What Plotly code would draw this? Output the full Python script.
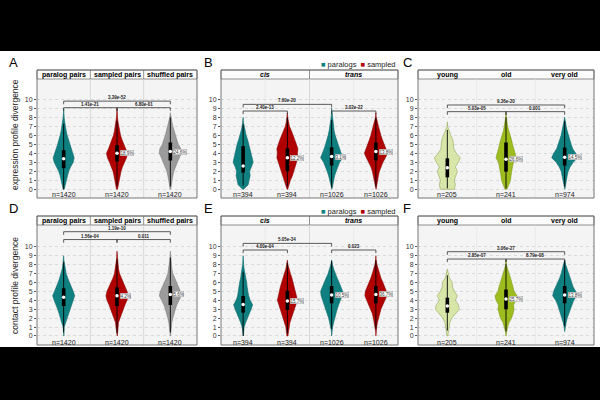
import plotly.graph_objects as go

# ---------------- data ----------------
levels = [0, 0.5, 1, 1.5, 2, 2.5, 3, 3.5, 4, 4.5, 5, 5.5, 6, 6.5, 7, 7.5, 8, 8.5, 9, 9.5]
y_ticks = [0, 1, 2, 3, 4, 5, 6, 7, 8, 9, 10]

# Panel A - expression, pairs
a_headers = ["paralog pairs", "sampled pairs", "shuffled pairs"]
a_n = ["n=1420", "n=1420", "n=1420"]
a_density = [
    [0.5, 1.5, 2.5, 3.5, 5, 7, 9.5, 10.5, 9, 7.5, 6, 4.5, 3.5, 2.5, 1.5, 1, 0.5, 0.2, 0, 0],
    [0.5, 1.2, 2, 3, 4, 5.5, 7.5, 9.5, 10.5, 8.5, 6.5, 5, 3.5, 2.5, 1.5, 1, 0.5, 0.2, 0, 0],
    [0.3, 0.8, 1.5, 2.5, 3.5, 5, 7, 9, 11, 10.5, 8, 6.5, 5, 3.5, 2.5, 1.5, 0.5, 0, 0, 0],
]
a_q1 = [2.35, 3.1, 3.2]
a_med = [3.4, 4.0, 4.2]
a_q3 = [4.35, 4.9, 5.2]
a_wlo = [0.0, 0.4, 0.3]
a_whi = [7.3, 7.6, 8.0]
a_pct = ["", "18.9%", "24.6%"]
a_pairs = [(0, 2), (0, 1), (1, 2)]
a_bracket_y = [9.8, 9.07, 9.07]
a_pvals = ["3.39e-52", "1.41e-21", "6.80e-01"]

# Panel B - expression, cis/trans
b_headers = ["cis", "trans"]
b_n = ["n=394", "n=394", "n=1026", "n=1026"]
b_density = [
    [0.5, 5, 6, 7, 6.5, 8, 10, 9, 8, 7, 6, 4.5, 3, 2, 1, 0.2, 0, 0, 0, 0],
    [0.3, 1.5, 3, 5, 6.5, 7.5, 9, 10.5, 10, 10.5, 9, 7.5, 6, 4, 2, 1, 0.3, 0, 0, 0],
    [0.3, 1, 2, 3, 4.5, 6, 8, 11, 9.5, 7.5, 6, 4.5, 3.5, 2.5, 2, 1, 0.5, 0.2, 0, 0],
    [0.2, 0.8, 1.5, 2.5, 3.5, 5, 7, 9.5, 11.5, 10, 8, 6.5, 5, 3.5, 2.5, 1.5, 0.3, 0, 0, 0],
]
b_q1 = [1.85, 2.0, 2.63, 3.2]
b_med = [2.6, 3.5, 3.63, 4.2]
b_q3 = [4.8, 4.55, 4.67, 5.2]
b_wlo = [0.4, 0.3, 0.2, 0.3]
b_whi = [7.2, 8.0, 7.7, 8.0]
b_pct = ["", "12.2%", "3.1%", "13.8%"]
b_pairs = [(0, 2), (0, 1), (2, 3)]
b_bracket_y = [9.44, 8.7, 8.7]
b_pvals = ["7.60e-20", "2.40e-13", "3.02e-22"]

# Panel C - expression, age
c_headers = ["young", "old", "very old"]
c_n = ["n=205", "n=241", "n=974"]
c_density = [
    [7, 8, 7, 8.5, 10, 8, 11, 13, 9, 6.5, 6, 5.5, 3.5, 2, 0.3, 0, 0, 0, 0, 0],
    [1, 3, 4.5, 5, 5.5, 6.5, 7.5, 10, 9, 7.5, 6.5, 5.5, 4, 2.5, 1.5, 1, 0.3, 0, 0, 0],
    [0.2, 0.8, 1.5, 2.5, 3.5, 5.5, 8.5, 13, 11, 8, 6.5, 5, 3.5, 2.5, 1.5, 0.8, 0, 0, 0, 0],
]
c_q1 = [1.33, 1.96, 2.63]
c_med = [2.4, 3.33, 3.55]
c_q3 = [3.44, 5.2, 4.63]
c_wlo = [0.1, 0.1, 0.3]
c_whi = [6.6, 8.0, 7.6]
c_pct = ["", "26.6%", "14.5%"]
c_pairs = [(0, 2), (0, 1), (1, 2)]
c_bracket_y = [9.37, 8.63, 8.63]
c_pvals = ["9.36e-20", "5.03e-05", "0.001"]

# Panel D - contact, pairs
d_headers = ["paralog pairs", "sampled pairs", "shuffled pairs"]
d_n = ["n=1420", "n=1420", "n=1420"]
d_density = [
    [0.2, 0.3, 0.5, 2, 3.5, 4.5, 6, 7.5, 9.5, 11, 9.5, 7.5, 5.5, 4, 2.5, 1.5, 0.8, 0.2, 0, 0],
    [0.3, 0.6, 1, 1.5, 3, 4.5, 6.5, 8, 10, 11, 10, 8, 6, 4, 2.5, 1.5, 1, 0.5, 0.2, 0],
    [0.2, 0.4, 0.8, 1.5, 2.5, 3.5, 5, 6.5, 8.5, 11, 10, 8, 6, 4, 2.5, 1.5, 1, 0.5, 0.2, 0],
]
d_q1 = [3.36, 3.36, 3.47]
d_med = [4.33, 4.5, 4.66]
d_q3 = [5.34, 5.45, 5.6]
d_wlo = [0.4, 0.3, 0.4]
d_whi = [8.3, 8.6, 8.8]
d_pct = ["", "4.2%", "5.6%"]
d_pairs = [(0, 2), (0, 1), (1, 2)]
d_bracket_y = [11.68, 10.8, 10.8]
d_pvals = ["1.19e-10", "1.56e-04", "0.011"]

# Panel E - contact, cis/trans
e_headers = ["cis", "trans"]
e_n = ["n=394", "n=394", "n=1026", "n=1026"]
e_density = [
    [0.3, 0.5, 1, 2.5, 4.5, 6, 8, 9.5, 7, 5.5, 4.5, 4, 3.5, 2.5, 1.5, 1, 0.5, 0.2, 0, 0],
    [0.5, 1, 1.5, 2.5, 4, 5.5, 7, 8.5, 10, 9, 8, 7, 5.5, 4.5, 3, 1.5, 0.5, 0, 0, 0],
    [0, 0.2, 1, 2, 3, 4, 5.5, 7, 9, 10.5, 11, 9.5, 7.5, 5.5, 3.5, 2, 0.8, 0, 0, 0],
    [0, 0.2, 0.8, 1.5, 2.5, 3.5, 5, 7, 9, 11, 10.5, 9, 7, 5, 3.5, 2, 1, 0.2, 0, 0],
]
e_q1 = [2.61, 2.91, 3.66, 3.66]
e_med = [3.54, 3.92, 4.6, 4.66]
e_q3 = [4.48, 5.07, 5.6, 5.6]
e_wlo = [0.0, 0.3, 0.8, 0.8]
e_whi = [7.2, 8.2, 8.4, 8.5]
e_pct = ["", "15.7%", "10.5%", "36.7%"]
e_pairs = [(0, 2), (0, 1), (2, 3)]
e_bracket_y = [10.37, 9.63, 9.63]
e_pvals = ["5.05e-34", "4.00e-04", "0.023"]

# Panel F - contact, age
f_headers = ["young", "old", "very old"]
f_n = ["n=205", "n=241", "n=974"]
f_density = [
    [0.5, 1, 1.5, 2.5, 4.5, 8, 12, 11, 8, 10, 7, 5, 5, 2, 1, 0, 0, 0, 0, 0],
    [0, 0.5, 1.5, 3, 5.5, 7, 8, 7.5, 10, 11, 8, 7, 6, 4.5, 3, 1.5, 0.3, 0, 0, 0],
    [0, 0, 0.5, 1.5, 2.5, 4, 5.5, 7, 9, 12, 11, 8.5, 7, 5, 3.5, 2, 1, 0, 0, 0],
]
f_q1 = [2.61, 2.99, 3.66]
f_med = [3.36, 4.14, 4.6]
f_q3 = [4.29, 5.2, 5.6]
f_wlo = [0.6, 0.5, 1.1]
f_whi = [6.8, 8.1, 8.5]
f_pct = ["", "25.7%", "13.8%"]
f_pairs = [(0, 2), (0, 1), (1, 2)]
f_bracket_y = [9.44, 8.62, 8.62]
f_pvals = ["3.06e-27", "2.85e-07", "8.79e-08"]

legend_labels = ["paralogs", "sampled"]
row_titles = ["expression profile divergence", "contact profile divergence"]

# ---------------- style ----------------
FONT = "Liberation Sans, Arial, sans-serif"
TEAL, TEAL_L = "#0f7f80", "#0b6a6b"
RED, RED_L = "#b00000", "#8a0000"
GREY, GREY_L = "#9b9b9b", "#7f7f7f"
YOUNG, YOUNG_L = "#d9e6a9", "#94a85a"
OLD, OLD_L = "#9dbd1f", "#7d9a12"

W, H = 600, 400


def px(x):
    return x / W


def py(y):
    return 1 - y / H


fig = go.Figure()
shapes = []
annotations = []

# white page area (rest is black letterbox)
shapes.append(dict(type="rect", xref="paper", yref="paper", x0=0, x1=1,
                   y0=py(347), y1=py(51), fillcolor="white", line_width=0, layer="below"))

cols_x = [(37, 197), (221, 398), (418, 594)]
rows_y = [dict(plot=(79, 198), head=(70, 79), yr=(-0.97, 12.26), nl=-0.6, letter=62, legend=64, title=135),
          dict(plot=(225, 345), head=(216, 225), yr=(-1.01, 12.43), nl=-0.7, letter=208, legend=211, title=286)]

panels = [
    ("A", 0, 0, a_headers, a_n, a_density, [TEAL, RED, GREY], [TEAL_L, RED_L, GREY_L],
     a_q1, a_med, a_q3, a_wlo, a_whi, a_pct, a_pairs, a_bracket_y, a_pvals, "pairs"),
    ("B", 0, 1, b_headers, b_n, b_density, [TEAL, RED, TEAL, RED], [TEAL_L, RED_L, TEAL_L, RED_L],
     b_q1, b_med, b_q3, b_wlo, b_whi, b_pct, b_pairs, b_bracket_y, b_pvals, "cistrans"),
    ("C", 0, 2, c_headers, c_n, c_density, [YOUNG, OLD, TEAL], [YOUNG_L, OLD_L, TEAL_L],
     c_q1, c_med, c_q3, c_wlo, c_whi, c_pct, c_pairs, c_bracket_y, c_pvals, "age"),
    ("D", 1, 0, d_headers, d_n, d_density, [TEAL, RED, GREY], [TEAL_L, RED_L, GREY_L],
     d_q1, d_med, d_q3, d_wlo, d_whi, d_pct, d_pairs, d_bracket_y, d_pvals, "pairs"),
    ("E", 1, 1, e_headers, e_n, e_density, [TEAL, RED, TEAL, RED], [TEAL_L, RED_L, TEAL_L, RED_L],
     e_q1, e_med, e_q3, e_wlo, e_whi, e_pct, e_pairs, e_bracket_y, e_pvals, "cistrans"),
    ("F", 1, 2, f_headers, f_n, f_density, [YOUNG, OLD, TEAL], [YOUNG_L, OLD_L, TEAL_L],
     f_q1, f_med, f_q3, f_wlo, f_whi, f_pct, f_pairs, f_bracket_y, f_pvals, "age"),
]

layout_axes = {}
for k, (letter, r, c, headers, nlab, dens, fills, lines, q1, med, q3, wlo, whi, pct,
        pairs, bys, pvals, kind) in enumerate(panels):
    ax = k + 1
    xa = "x" if ax == 1 else f"x{ax}"
    ya = "y" if ax == 1 else f"y{ax}"
    xl = "xaxis" if ax == 1 else f"xaxis{ax}"
    yl = "yaxis" if ax == 1 else f"yaxis{ax}"
    x0p, x1p = cols_x[c]
    R = rows_y[r]
    ncat = len(dens)
    unit = ncat / (x1p - x0p)  # data units per pixel

    layout_axes[xl] = dict(domain=[px(x0p), px(x1p)], range=[-0.5, ncat - 0.5], anchor=ya,
                           showgrid=False, zeroline=False, showticklabels=False, ticks="",
                           showline=False, fixedrange=True)
    layout_axes[yl] = dict(domain=[py(R["plot"][1]), py(R["plot"][0])], range=list(R["yr"]), anchor=xa,
                           tickvals=y_ticks, ticks="outside", ticklen=2, tickcolor="#555",
                           tickfont=dict(size=7, color="#333", family=FONT),
                           showgrid=True, gridcolor="#dadada", griddash="dot", gridwidth=0.6,
                           zeroline=False, showline=False, fixedrange=True)

    # plot area background
    shapes.append(dict(type="rect", xref="paper", yref="paper", x0=px(x0p), x1=px(x1p),
                       y0=py(R["plot"][1]), y1=py(R["plot"][0]), fillcolor="#f4f4f4",
                       line_width=0, layer="below"))
    # header strip
    shapes.append(dict(type="rect", xref="paper", yref="paper", x0=px(x0p), x1=px(x1p),
                       y0=py(R["head"][1]), y1=py(R["head"][0]), fillcolor="#fbfbfb",
                       line=dict(color="#777", width=0.8), layer="below"))
    # vertical separators
    if kind == "pairs":
        seps, faint = [0.5, 1.5], []
    elif kind == "cistrans":
        seps, faint = [1.5], [0.5, 2.5]
    else:
        seps, faint = [], [0.5, 1.5]
    for s in seps:
        shapes.append(dict(type="line", xref=xa, yref="paper", x0=s, x1=s,
                           y0=py(R["plot"][1]), y1=py(R["plot"][0]), line=dict(color="#d0d0d0", width=0.8),
                           layer="below"))
        shapes.append(dict(type="line", xref=xa, yref="paper", x0=s, x1=s,
                           y0=py(R["head"][1]), y1=py(R["head"][0]), line=dict(color="#777", width=0.8)))
    for s in faint:
        shapes.append(dict(type="line", xref=xa, yref="paper", x0=s, x1=s,
                           y0=py(R["plot"][1]), y1=py(R["plot"][0]), line=dict(color="#e2e2e2", width=0.6),
                           layer="below"))
    # outer border
    shapes.append(dict(type="rect", xref="paper", yref="paper", x0=px(x0p), x1=px(x1p),
                       y0=py(R["plot"][1]), y1=py(R["head"][0]), line=dict(color="#666", width=0.9),
                       fillcolor="rgba(0,0,0,0)"))

    # header texts
    hy = (py(R["head"][0]) + py(R["head"][1])) / 2
    if kind == "cistrans":
        hx = [0.5, 2.5]
        htxt = [f"<b><i>{h}</i></b>" for h in headers]
    else:
        hx = list(range(len(headers)))
        htxt = [f"<b>{h}</b>" for h in headers]
    for x, t in zip(hx, htxt):
        annotations.append(dict(x=x, y=hy, xref=xa, yref="paper", text=t, showarrow=False,
                                font=dict(size=7, color="#000", family=FONT), yanchor="middle"))

    # violins
    for i in range(ncat):
        ws = dens[i]
        nz = [j for j, w in enumerate(ws) if w > 0]
        j0 = max(nz[0] - 1, 0)
        j1 = min(nz[-1] + 1, len(levels) - 1)
        ys = levels[j0:j1 + 1]
        wv = ws[j0:j1 + 1]
        xs = [i + w * unit for w in wv] + [i - w * unit for w in reversed(wv)]
        yy = ys + list(reversed(ys))
        xs.append(xs[0]); yy.append(yy[0])
        fig.add_trace(go.Scatter(x=xs, y=yy, xaxis=xa, yaxis=ya, mode="lines", fill="toself",
                                 fillcolor=fills[i], line=dict(color=lines[i], width=0.6),
                                 hoverinfo="skip", showlegend=False))
        fig.add_trace(go.Scatter(x=[i, i], y=[wlo[i], whi[i]], xaxis=xa, yaxis=ya, mode="lines",
                                 line=dict(color="black", width=0.9), hoverinfo="skip", showlegend=False))
        fig.add_trace(go.Scatter(x=[i, i], y=[q1[i], q3[i]], xaxis=xa, yaxis=ya, mode="lines",
                                 line=dict(color="black", width=3.6), hoverinfo="skip", showlegend=False))
        fig.add_trace(go.Scatter(x=[i], y=[med[i]], xaxis=xa, yaxis=ya, mode="markers",
                                 marker=dict(color="white", size=3.5, line=dict(width=0)),
                                 hoverinfo="skip", showlegend=False))
        if pct[i]:
            annotations.append(dict(x=i, y=med[i], xref=xa, yref=ya, text=pct[i], showarrow=False,
                                    xanchor="left", yanchor="middle", xshift=3,
                                    font=dict(size=4.5, color="#333", family=FONT),
                                    bgcolor="white", bordercolor="#999", borderwidth=0.5, borderpad=0))
        annotations.append(dict(x=i, y=R["nl"], xref=xa, yref=ya, text=nlab[i], showarrow=False,
                                yanchor="middle", font=dict(size=7, color="#222", family=FONT)))

    # significance brackets
    for (i, j), by, pv in zip(pairs, bys, pvals):
        tick = 0.35
        fig.add_trace(go.Scatter(x=[i, i, j, j], y=[by - tick, by, by, by - tick], xaxis=xa, yaxis=ya,
                                 mode="lines", line=dict(color="#333", width=0.8),
                                 hoverinfo="skip", showlegend=False))
        annotations.append(dict(x=(i + j) / 2, y=by, xref=xa, yref=ya, text=f"<b>{pv}</b>",
                                showarrow=False, yanchor="bottom", yshift=-1,
                                font=dict(size=4.5, color="#222", family=FONT)))

    # panel letter
    lx = 7 if c == 0 else (202 if c == 1 else 401)
    annotations.append(dict(x=px(lx), y=py(R["letter"]), xref="paper", yref="paper", text=letter,
                            showarrow=False, xanchor="left", yanchor="middle",
                            font=dict(size=13, color="black", family=FONT)))
    # legend for cis/trans panels
    if kind == "cistrans":
        txt = (f'<span style="color:{TEAL}">■</span> {legend_labels[0]}  '
               f'<span style="color:{RED}">■</span> {legend_labels[1]}')
        annotations.append(dict(x=px(x1p), y=py(R["legend"]), xref="paper", yref="paper", text=txt,
                                showarrow=False, xanchor="right", yanchor="middle",
                                font=dict(size=7.5, color="#222", family=FONT)))
    # y-axis title for first column
    if c == 0:
        annotations.append(dict(x=px(15), y=py(R["title"]), xref="paper", yref="paper",
                                text=row_titles[r], showarrow=False, textangle=-90,
                                xanchor="center", yanchor="middle",
                                font=dict(size=8.5, color="#222", family=FONT)))

fig.update_layout(width=W, height=H, margin=dict(l=0, r=0, t=0, b=0),
                  paper_bgcolor="black", plot_bgcolor="rgba(0,0,0,0)",
                  showlegend=False, shapes=shapes, annotations=annotations,
                  font=dict(family=FONT), **layout_axes)

fig.write_html("out.html")
